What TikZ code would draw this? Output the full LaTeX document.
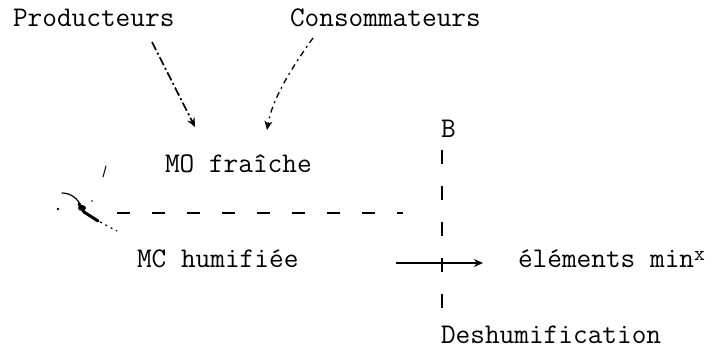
\documentclass[tikz,border=0pt]{standalone}
\usepackage{fontspec}
\usetikzlibrary{arrows.meta,calc}
\begin{document}
\begin{tikzpicture}[x=1pt,y=-1pt,
  lbl/.style={inner sep=0pt, outer sep=0pt, anchor=base west,
    font=\ttfamily\fontsize{28.5}{30}\selectfont},
  flow/.style={line width=1.4pt, -{Stealth[length=9pt,width=8pt]}},
  dashline/.style={line width=1.6pt, dash pattern=on 13pt off 22pt},
  vline/.style={line width=1.3pt, dash pattern=on 14pt off 22pt}]
\useasboundingbox (0,0) rectangle (718,350);
\fill[white] (0,0) rectangle (718,350);

% labels
\node[lbl] (prod) at (13,27) {Producteurs};
\node[lbl] (cons) at (290,27) {Consommateurs};
\node[lbl] (mo) at (165,172) {MO fraîche};
\node[lbl] (mc) at (137,267) {MC humifiée};
\node[lbl] (B) at (441,138) {B};
\node[lbl] (elem) at (518,267) {éléments min\raisebox{7pt}{\fontsize{21}{22}\selectfont x}};
\node[lbl] (desh) at (441,343) {Deshumification};

% inputs to MO fraiche
\draw[flow, line width=1.7pt, dash pattern=on 9pt off 3pt on 2pt off 3pt]
  ($(prod.base west)+(139,15)$) -- ($(mo.base west)+(30,-45)$);
\draw[flow, line width=1.3pt, dash pattern=on 6pt off 4pt on 2pt off 4pt]
  ($(cons.base west)+(23,11)$) .. controls (290,70) and (272,100) .. ($(mo.base west)+(102,-42)$);

% vertical boundary line
\draw[vline] ($(B.base west)+(1,12)$) -- ($(desh.base west)+(1,-31)$);

% horizontal dashed line
\coordinate (h1) at (117,213);
\coordinate (h2) at (403,213);
\draw[dashline] (h1) -- (h2);

% left hand-drawn hook
\draw[line width=1pt, line cap=round] (106,166) -- (103,177);
\draw[line width=1.2pt, line cap=round] (62,193) .. controls (71,193) and (78,199) .. (81,206);
\draw[line width=3pt, line cap=round] (79,204) -- (84,212) -- (98,221);
\fill (82,208) ellipse (4pt and 3pt);
\draw[line width=1.2pt, dash pattern=on 2pt off 4pt] (100,222) -- (117,231);
\fill (58,209) circle (1.3pt);
\fill (92,201) circle (0.8pt);

% mineralisation arrow
\draw[flow, line width=1.8pt] ($(mc.base east)+(98,-4)$) -- ($(elem.base west)+(-35,-4)$);
\end{tikzpicture}
\end{document}
